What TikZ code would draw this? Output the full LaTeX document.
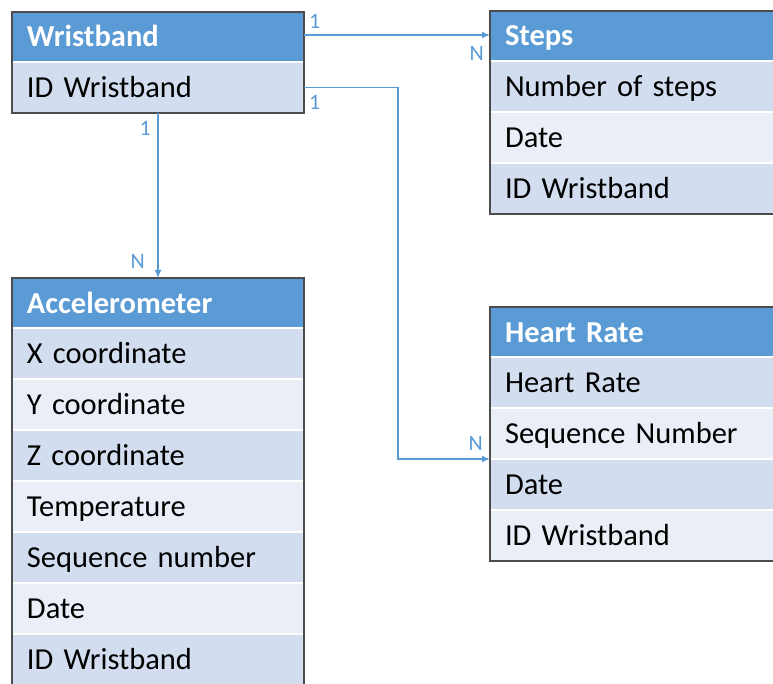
\documentclass[tikz,border=0pt]{standalone}
\usepackage{fontspec}
\setmainfont{Carlito}
\usetikzlibrary{arrows.meta}
\definecolor{bleu}{HTML}{5B9BD5}
\definecolor{fonce}{HTML}{D2DEEF}
\definecolor{clair}{HTML}{EAEFF7}
\begin{document}
\begin{tikzpicture}[x=1pt, y=-1pt]
\tikzset{ligne/.style={rectangle, draw=white, line width=1.5pt, anchor=north west, minimum width=292pt, minimum height=51pt, text width=262pt, inner xsep=15pt, inner ysep=0pt, outer sep=0pt, text height=20pt, text depth=0pt, align=left, font=\fontsize{30.5}{36}\selectfont},
entete/.style={ligne, fill=bleu, minimum height=50pt, text=white, font=\fontsize{30.5}{36}\selectfont\bfseries},
fonce/.style={ligne, fill=fonce},
clair/.style={ligne, fill=clair},
cadre/.style={draw=black!70, line width=1.3pt},
lien/.style={draw=bleu, line width=1.3pt, -{Latex[length=8pt, width=7pt]}},
card/.style={text=bleu, font=\fontsize{22}{26}\selectfont, inner sep=3pt}}
\useasboundingbox (0,0) rectangle (773,684);
\clip (0,0) rectangle (773,684);
\node[entete] (W0) at (12,12) {Wristband};
\node[fonce] (W1) at (12,62) {ID Wristband};
\node[entete] (S0) at (490,11) {Steps};
\node[fonce] (S1) at (490,61) {Number of steps};
\node[clair] (S2) at (490,112) {Date};
\node[fonce] (S3) at (490,163) {ID Wristband};
\node[entete] (A0) at (12,278) {Accelerometer};
\node[fonce] (A1) at (12,328) {X coordinate};
\node[clair] (A2) at (12,379) {Y coordinate};
\node[fonce] (A3) at (12,430) {Z coordinate};
\node[clair] (A4) at (12,481) {Temperature};
\node[fonce] (A5) at (12,532) {Sequence number};
\node[clair] (A6) at (12,583) {Date};
\node[fonce] (A7) at (12,634) {ID Wristband};
\node[entete] (H0) at (490,307) {Heart Rate};
\node[fonce] (H1) at (490,357) {Heart Rate};
\node[clair] (H2) at (490,408) {Sequence Number};
\node[fonce] (H3) at (490,459) {Date};
\node[clair] (H4) at (490,510) {ID Wristband};
\draw[cadre] (W0.north west) rectangle (W1.south east);
\draw[cadre] (S0.north west) rectangle (S3.south east);
\draw[cadre] (A0.north west) rectangle (A7.south east);
\draw[cadre] (H0.north west) rectangle (H4.south east);
\draw[lien] ([yshift=2pt]W0.east) -- ([yshift=2pt]W0.east -| S0.west);
\draw[lien] (W1.east) -| ([xshift=-92pt]H2.south west) -- (H2.south west);
\draw[lien] (W1.south) -- (A0.north);
\node[card, anchor=south west, xshift=2pt, yshift=5pt] (c1) at (W0.east) {1};
\node[card, anchor=north east, xshift=-3pt, yshift=-7pt] (n1) at (S0.west) {N};
\node[card, anchor=north west, xshift=2pt, yshift=-4.5pt] (c2) at (W1.east) {1};
\node[card, anchor=south east, xshift=-4pt, yshift=5pt] (n2) at (H2.south west) {N};
\node[card, anchor=north east, xshift=-4pt, yshift=-5pt] (c3) at (W1.south) {1};
\node[card, anchor=south east, xshift=-10pt, yshift=6pt] (n3) at (A0.north) {N};
\end{tikzpicture}
\end{document}
